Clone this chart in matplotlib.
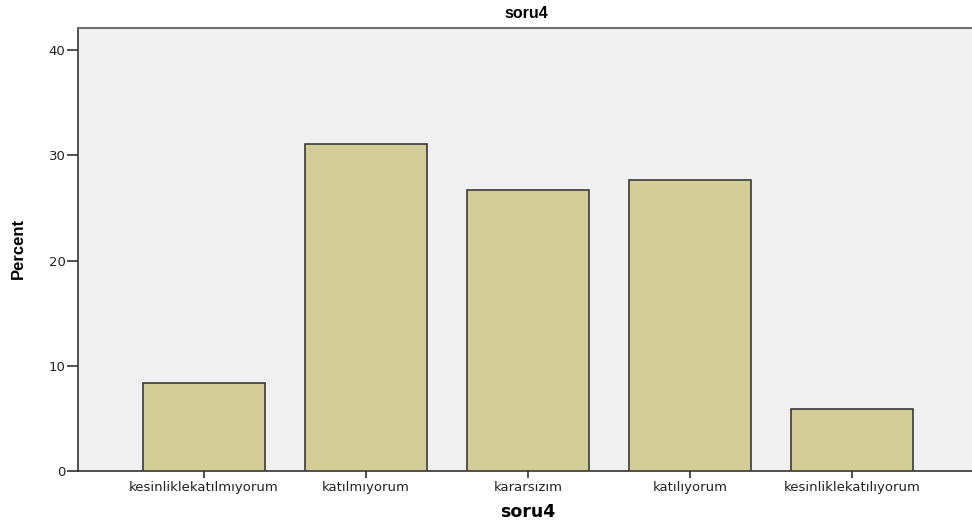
import matplotlib
matplotlib.use("Agg")
import matplotlib.pyplot as plt

categories = ["kesinliklekatılmıyorum", "katılmıyorum", "kararsızım", "katılıyorum", "kesinliklekatılıyorum"]
percent = [8.4, 31.1, 26.7, 27.7, 5.9]
yticks = [0, 10, 20, 30, 40]

fig = plt.figure(figsize=(9.72, 5.24), dpi=100)
ax = fig.add_axes([78/972, 53/524, 900/972, 443/524])
ax.set_facecolor("#F0F0F0")
x = range(len(categories))
ax.bar(x, percent, width=0.75, color="#D3CE97", edgecolor="#3A3A3A", linewidth=1.2, zorder=3)
ax.set_xlim(-0.778, 4.778)
ax.set_ylim(0, 42.1)
ax.set_yticks(yticks)
ax.set_xticks(list(x))
ax.set_xticklabels(categories, fontsize=9.5, family="DejaVu Sans", color="#222222")
ax.set_yticklabels([str(v) for v in yticks], fontsize=9.5, family="DejaVu Sans", color="#222222")
ax.tick_params(axis="y", length=8, width=1.2, color="#333333", pad=1)
ax.tick_params(axis="x", length=5, width=1.2, color="#333333", pad=2)
ax.spines["right"].set_visible(False)
ax.spines["top"].set_color("#707070")
ax.spines["top"].set_linewidth(1.5)
ax.spines["left"].set_color("#333333")
ax.spines["left"].set_linewidth(1.2)
ax.spines["bottom"].set_color("#333333")
ax.spines["bottom"].set_linewidth(1.2)

fig.text(526/972, 1 - 14/524, "soru4", ha="center", va="center", fontsize=11.5, fontweight="bold", family="Liberation Sans")
fig.text(18/972, 1 - 248/524, "Percent", ha="center", va="center", rotation=90, fontsize=12, fontweight="bold", family="Liberation Sans")
fig.text(528/972, 1 - 512/524, "soru4", ha="center", va="center", fontsize=12.5, fontweight="bold", family="DejaVu Sans")

fig.savefig("out.png", dpi=100)
